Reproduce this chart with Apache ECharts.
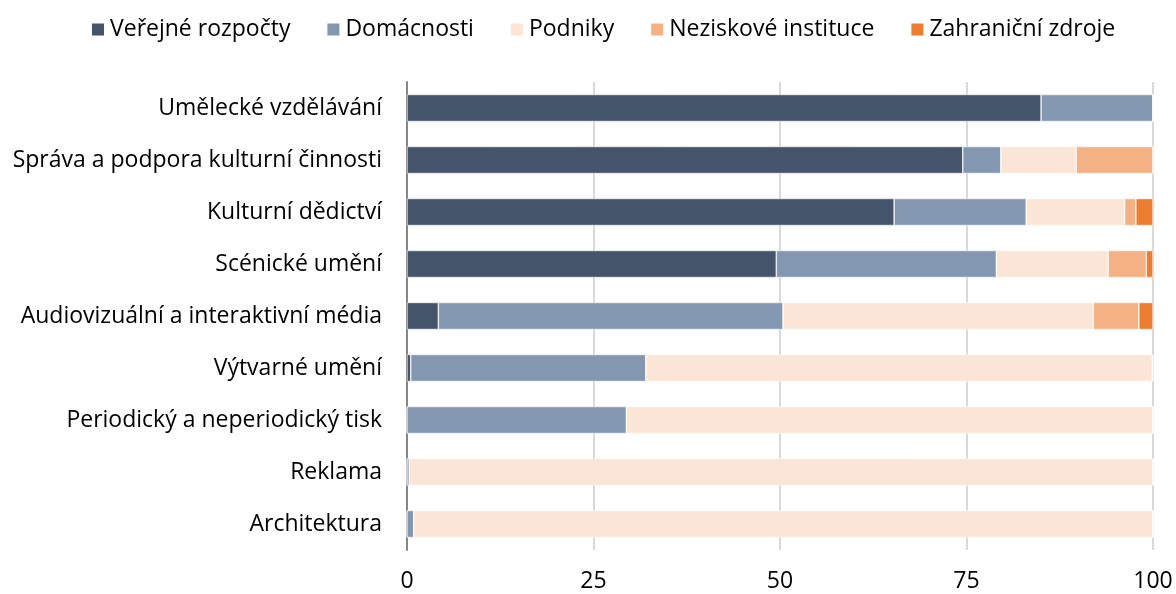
<!DOCTYPE html>
<html>
<head>
<meta charset="utf-8">
<script src="https://cdn.jsdelivr.net/npm/echarts@6/dist/echarts.min.js"></script>
<style>
  html, body { margin: 0; padding: 0; background: #fff; }
  #main { width: 1176px; height: 594px; }
</style>
</head>
<body>
<div id="main"></div>
<script>
// categories, bottom to top (category axis on y starts at bottom)
var categories = [
    'Architektura',
    'Reklama',
    'Periodický a neperiodický tisk',
    'Výtvarné umění',
    'Audiovizuální a interaktivní média',
    'Scénické umění',
    'Kulturní dědictví',
    'Správa a podpora kulturní činnosti',
    'Umělecké vzdělávání'
];

var verejne    = [0,    0,    0,    0.5,  4.2,  49.5, 65.3, 74.5, 85.0];
var domacnosti = [0.9,  0.3,  29.4, 31.5, 46.2, 29.5, 17.7, 5.1,  15.0];
var podniky    = [99.1, 99.7, 70.6, 67.9, 41.6, 15.0, 13.2, 10.1, 0];
var neziskove  = [0,    0,    0,    0.1,  6.1,  5.1,  1.5,  10.3, 0];
var zahranicni = [0,    0,    0,    0,    1.9,  0.9,  2.3,  0,    0];

var seriesNames = ['Veřejné rozpočty', 'Domácnosti', 'Podniky', 'Neziskové instituce', 'Zahraniční zdroje'];
var seriesData = [verejne, domacnosti, podniky, neziskove, zahranicni];
var colors = ['#44546A', '#8497B0', '#FBE5D6', '#F4B183', '#ED7D31'];

var font = 'Open Sans';

var series = seriesNames.map(function (name, i) {
    return {
        name: name,
        type: 'bar',
        stack: 'total',
        barWidth: '52%',
        data: seriesData[i],
        itemStyle: { borderColor: '#fff', borderWidth: 0.6 },
        emphasis: { disabled: true }
    };
});

var option = {
    animation: false,
    color: colors,
    legend: {
        top: 13,
        left: 85,
        itemWidth: 14,
        itemHeight: 14,
        itemGap: 35,
        icon: 'rect',
        textStyle: { fontFamily: font, fontSize: 23, color: '#000' },
        data: seriesNames
    },
    grid: {
        left: 407,
        right: 23,
        top: 82,
        bottom: 44,
        containLabel: false
    },
    xAxis: {
        type: 'value',
        min: 0,
        max: 100,
        interval: 25,
        axisLine: { show: false },
        axisTick: { show: false },
        axisLabel: { fontFamily: font, fontSize: 23, color: '#000', margin: 20 },
        splitLine: { lineStyle: { color: '#D9D9D9', width: 2 } }
    },
    yAxis: {
        type: 'category',
        data: categories,
        axisLine: { lineStyle: { color: '#868686', width: 2 } },
        axisTick: { show: false },
        axisLabel: { fontFamily: font, fontSize: 23, color: '#000', margin: 25 }
    },
    series: series
};

var myChart = echarts.init(document.getElementById('main'));
myChart.setOption(option);
</script>
</body>
</html>
